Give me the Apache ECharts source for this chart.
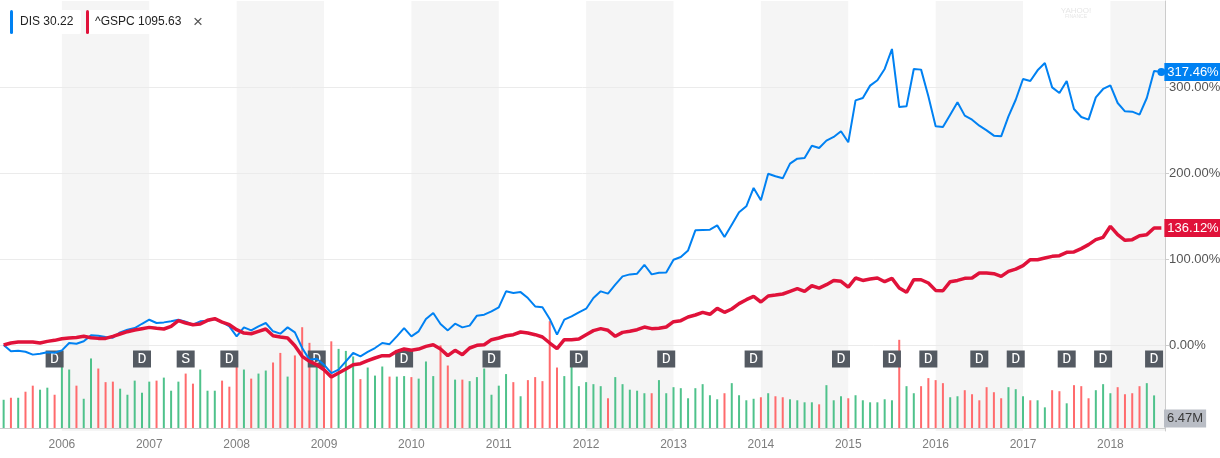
<!DOCTYPE html>
<html><head><meta charset="utf-8">
<script src="https://cdn.jsdelivr.net/npm/echarts@6/dist/echarts.min.js"></script>
<style>html,body{margin:0;padding:0;background:#fff}#c{width:1220px;height:458px}</style>
</head><body><div id="c"></div>
<script>
// ---------------- data ----------------
const tickers = ['DIS', '^GSPC'];
const legendValues = ['30.22', '1095.63'];
const startYear = 2005, startMonth = 5;   // first monthly point: May 2005

// % change since start, monthly
const dis = [0, -7.4, -6.6, -7.8, -11.2, -10.1, -8.5, -9.0, -6.2, 2.3,
 1.5, 4.3, 11.2, 10.8, 9.3, 8.5, 14.7, 17.8, 19.7, 24.7,
 29.4, 25.6, 26.3, 27.5, 29.4, 27.0, 23.6, 27.5, 28.3, 30.2,
 26.7, 21.7, 10.1, 20.5, 17.0, 21.7, 25.6, 15.9, 13.2, 20.5,
 14.7, -3.5, -17.0, -16.0, -22.9, -32.6, -28.7, -19.0, -9.3, -13.2,
 -8.1, -3.5, 2.3, 1.0, 10.1, 19.7, 10.1, 15.9, 30.2, 37.2,
 24.4, 17.0, 24.8, 20.5, 22.5, 34.1, 35.3, 39.1, 43.8, 62.4,
 60.5, 61.5, 54.6, 44.9, 43.8, 30.2, 12.0, 29.5, 33.3, 38.0,
 42.2, 54.6, 62.4, 59.7, 70.1, 79.8, 82.1, 82.9, 93.3, 82.1,
 84.0, 84.4, 99.2, 102.3, 110.0, 133.3, 133.7, 134.1, 139.1, 125.5,
 139.9, 154.3, 161.3, 182.6, 168.2, 199.2, 196.2, 193.8, 210.9, 216.7,
 217.4, 231.7, 229.0, 237.6, 241.9, 248.5, 235.7, 284.5, 287.2, 301.6,
 307.8, 321.0, 344.2, 276.7, 277.5, 321.0, 320.2, 289.2, 254.3, 253.5,
 267.8, 282.2, 266.7, 262.0, 255.0, 249.6, 243.4, 242.6, 265.8, 285.2,
 309.3, 307.0, 319.4, 327.9, 299.6, 293.0, 307.0, 274.4, 265.1, 262.0,
 288.0, 297.7, 301.9, 281.4, 271.7, 271.3, 267.8, 287.2, 318.5, 317.46];

const gspc = [0, 2.3, 3.5, 3.5, 3.5, 2.3, 4.2, 5.4, 7.3, 8.1,
 8.8, 10.1, 8.5, 7.7, 7.7, 10.1, 12.8, 15.5, 17.4, 19.0,
 20.5, 19.4, 18.6, 21.7, 28.3, 25.6, 23.6, 24.4, 28.7, 30.6,
 26.7, 23.6, 17.8, 13.9, 13.1, 15.9, 18.6, 10.8, 9.3, 8.1,
 -0.8, -13.2, -19.0, -22.9, -28.7, -37.2, -32.6, -27.9, -22.9, -21.7,
 -18.2, -15.1, -12.4, -12.4, -7.4, -4.7, -6.2, -4.7, -1.6, 0.3,
 -4.7, -12.4, -6.2, -11.2, -3.5, -0.4, 0.3, 6.2, 8.1, 10.8,
 12.0, 15.1, 13.9, 12.0, 9.3, 2.3, -4.3, 6.2, 6.2, 7.0,
 12.0, 16.7, 19.0, 17.1, 10.1, 14.7, 15.9, 17.8, 20.9, 19.0,
 19.4, 20.9, 27.1, 28.3, 32.6, 34.9, 38.0, 35.7, 42.6, 38.0,
 41.9, 48.1, 52.7, 56.6, 50.0, 57.0, 58.1, 59.3, 62.4, 65.5,
 62.3, 68.9, 66.2, 70.1, 75.1, 74.0, 67.4, 77.9, 75.1, 76.7,
 77.9, 73.6, 77.5, 66.2, 61.2, 75.9, 75.9, 72.1, 63.5, 63.1,
 73.6, 75.1, 77.5, 77.9, 83.7, 83.7, 82.9, 79.8, 85.6, 88.3,
 92.2, 99.2, 99.2, 101.2, 103.1, 103.9, 107.8, 108.2, 112.1, 116.7,
 122.5, 125.2, 138.0, 128.3, 121.7, 122.5, 127.1, 128.3, 136.0, 136.12];

// volume (millions), monthly
const volume = [5.6, 6.0, 6.0, 7.2, 8.4, 7.6, 8.0, 6.6, 12.5, 11.6,
 8.4, 5.8, 13.8, 11.8, 9.1, 9.2, 7.8, 6.6, 9.4, 7.0,
 9.2, 9.4, 10.0, 7.4, 9.2, 10.8, 8.8, 11.6, 7.4, 7.4,
 9.4, 8.2, 12.5, 11.6, 9.8, 10.8, 11.4, 13.0, 14.9, 10.2,
 14.4, 20.0, 16.9, 13.5, 13.5, 17.2, 15.7, 15.3, 14.2, 9.7,
 12.0, 10.4, 12.2, 10.2, 10.2, 10.3, 10.1, 9.8, 13.2, 10.3,
 16.4, 12.4, 9.6, 9.6, 9.3, 10.1, 11.8, 6.6, 8.4, 10.7,
 9.1, 6.3, 9.5, 10.1, 9.3, 21.2, 12.0, 10.3, 12.1, 8.3,
 9.1, 8.7, 8.3, 5.9, 10.1, 8.7, 7.6, 7.4, 6.9, 6.9,
 9.5, 6.9, 8.1, 7.9, 5.9, 7.9, 8.7, 6.5, 5.7, 6.9,
 8.9, 6.5, 5.5, 5.8, 6.1, 6.9, 6.3, 6.1, 5.7, 5.5,
 5.1, 5.1, 4.7, 8.5, 5.5, 6.3, 5.9, 6.5, 5.5, 5.1,
 5.1, 5.7, 5.5, 17.5, 8.3, 6.9, 8.3, 9.9, 9.5, 8.9,
 6.1, 6.3, 7.5, 6.7, 5.5, 8.1, 7.1, 5.9, 8.1, 7.7,
 6.3, 5.5, 5.5, 4.1, 7.5, 7.3, 4.9, 8.5, 8.3, 5.9,
 7.5, 8.7, 6.9, 8.1, 6.7, 6.9, 8.3, 8.9, 6.47, null];

// G = up month, R = down month (volume bar colour)
const volumeDir = ('GRGRRGGRGG' + 'RGGRRRGGGG' + 'GRGGGRRGGG' + 'RRRGRGGRRG' +
 'RRRGRRGGGR' + 'GGGRGGRGGG' + 'RRGRGGGGGG' + 'RGRRRRRGGG' +
 'GGGRGGGGGR' + 'GGGGGGGGGR' + 'GGGGRGRRGG' + 'GGRGGGRGGG' +
 'GGGRGGRRRR' + 'GGRRRRRRGG' + 'GRGGRRGRRR' + 'GGGRRRRGG').split('');

// dividend / split events
const eventMonths = ['2005-12', '2006-12', '2007-06', '2007-12', '2008-12', '2009-12',
 '2010-12', '2011-12', '2012-12', '2013-12', '2014-12', '2015-07', '2015-12',
 '2016-07', '2016-12', '2017-07', '2017-12', '2018-07'];
const eventKinds = ['D', 'D', 'S', 'D', 'D', 'D', 'D', 'D', 'D', 'D', 'D', 'D', 'D',
 'D', 'D', 'D', 'D', 'D'];

// ---------------- derived ----------------
const categories = dis.map((_, k) => {
  const m = startMonth - 1 + k;
  return (startYear + Math.floor(m / 12)) + '-' + String(m % 12 + 1).padStart(2, '0');
});
const isJan = (i, v) => String(v).endsWith('-01');
const Y_MIN = -100, Y_MAX = 400, Y_STEP = 100, VOL_MAX = 25.4;
const BLUE = '#0081f2', RED = '#e0123a', UP = '#4fc28b', DOWN = '#ff6b6d';
const FONT = '"Liberation Sans", Arial, sans-serif';
const fmtPct = v => v.toFixed(2) + '%';

const bands = [];
categories.forEach((c, i) => {
  if (c.endsWith('-01') && (+c.slice(0, 4)) % 2 === 0) {
    const end = categories[i + 12];
    bands.push([{ xAxis: c, yAxis: Y_MIN }, end ? { xAxis: end, yAxis: Y_MAX } : { yAxis: Y_MAX }]);
  }
});
const lastVol = volume.filter(v => v != null).slice(-1)[0];

const chart = echarts.init(document.getElementById('c'), null, { renderer: 'canvas' });
chart.setOption({
  animation: false,
  textStyle: { fontFamily: FONT },
  grid: [
    { left: 0, top: 1, width: 1165, height: 430, outerBoundsMode: 'none', containLabel: false },
    { left: 0, top: 300, width: 1165, height: 128, outerBoundsMode: 'none', containLabel: false }
  ],
  xAxis: [
    { type: 'category', gridIndex: 0, data: categories, boundaryGap: true, show: false },
    { type: 'category', gridIndex: 1, data: categories, boundaryGap: true,
      axisLine: { lineStyle: { color: '#cccccc' } },
      axisTick: { alignWithLabel: true, interval: isJan, length: 4, lineStyle: { color: '#cccccc' } },
      axisLabel: { interval: isJan, formatter: v => v.slice(0, 4), color: '#7d7d7d', fontSize: 12, margin: 11, fontFamily: FONT },
      splitLine: { show: false } }
  ],
  yAxis: [
    { type: 'value', gridIndex: 0, position: 'right', min: Y_MIN, max: Y_MAX, interval: Y_STEP,
      axisLine: { show: true, lineStyle: { color: '#cccccc' } },
      axisTick: { show: true, length: 4, lineStyle: { color: '#cccccc' } },
      axisLabel: { showMinLabel: false, showMaxLabel: false, color: '#555', fontSize: 13, margin: 4,
        fontFamily: FONT, formatter: v => (v <= Y_MIN || v >= Y_MAX) ? '' : fmtPct(v) },
      splitLine: { show: true, showMinLine: false, showMaxLine: false, lineStyle: { color: '#ebebeb' } } },
    { type: 'value', gridIndex: 1, min: 0, max: VOL_MAX, show: false, splitLine: { show: false } }
  ],
  series: [
    { name: 'bands', type: 'line', xAxisIndex: 0, yAxisIndex: 0, data: [], z: -1, silent: true,
      markArea: { silent: true, z: -1, itemStyle: { color: '#f5f5f5' }, label: { show: false }, data: bands } },
    { name: 'Volume', type: 'bar', xAxisIndex: 1, yAxisIndex: 1, barWidth: 2, z: 2, silent: true,
      data: volume.map((v, i) => ({ value: v, itemStyle: { color: volumeDir[i] === 'G' ? UP : DOWN } })) },
    { name: 'Events', type: 'scatter', xAxisIndex: 0, yAxisIndex: 0, z: 3, silent: true,
      symbol: 'rect', symbolSize: [18, 17], symbolOffset: [0, 14],
      itemStyle: { color: '#545a62', opacity: 1 },
      label: { show: true, position: 'inside', color: '#fff', fontSize: 15,
        fontFamily: '"Liberation Mono", "Courier New", monospace', formatter: p => eventKinds[p.dataIndex] },
      data: eventMonths.map(m => [m, 0]) },
    { name: tickers[0], type: 'line', xAxisIndex: 0, yAxisIndex: 0, z: 4, silent: true,
      data: dis, showSymbol: true, showAllSymbol: true, symbol: 'circle',
      symbolSize: (v, p) => p.dataIndex === dis.length - 1 ? 8 : 0,
      itemStyle: { color: BLUE }, lineStyle: { color: BLUE, width: 2 },
      endLabel: { show: true, formatter: p => fmtPct(p.value), color: '#fff', backgroundColor: BLUE,
        padding: [2, 3, 2, 3], fontSize: 13, lineHeight: 14, distance: 3, fontFamily: FONT } },
    { name: tickers[1], type: 'line', xAxisIndex: 0, yAxisIndex: 0, z: 5, silent: true,
      data: gspc, showSymbol: false, symbol: 'none',
      itemStyle: { color: RED }, lineStyle: { color: RED, width: 3.5 },
      endLabel: { show: true, formatter: p => fmtPct(p.value), color: '#fff', backgroundColor: RED,
        padding: [2, 3, 2, 3], fontSize: 13, lineHeight: 14, distance: 3, fontFamily: FONT } }
  ],
  graphic: [
    { type: 'rect', shape: { x: 10, y: 10, width: 71, height: 24, r: 2 }, style: { fill: '#fff' }, z: 10 },
    { type: 'rect', shape: { x: 10, y: 10, width: 3, height: 24, r: 1.5 }, style: { fill: BLUE }, z: 11 },
    { type: 'text', x: 20, y: 22, z: 11, style: { text: tickers[0] + ' ' + legendValues[0], fill: '#222',
      fontSize: 12, fontFamily: FONT, verticalAlign: 'middle' } },
    { type: 'rect', shape: { x: 86, y: 10, width: 99, height: 24, r: 2 }, style: { fill: '#fff' }, z: 10 },
    { type: 'rect', shape: { x: 86, y: 10, width: 3, height: 24, r: 1.5 }, style: { fill: RED }, z: 11 },
    { type: 'text', x: 95, y: 22, z: 11, style: { text: tickers[1] + ' ' + legendValues[1], fill: '#222',
      fontSize: 12, fontFamily: FONT, verticalAlign: 'middle' } },
    { type: 'text', x: 198, y: 22, z: 11, style: { text: '\u00d7', fill: '#555', fontSize: 17,
      fontFamily: FONT, align: 'center', verticalAlign: 'middle' } },
    { type: 'text', x: 1076, y: 11, z: 1, style: { text: 'YAHOO!', fill: '#e6e6e6', fontSize: 8,
      fontFamily: FONT, align: 'center', verticalAlign: 'middle' } },
    { type: 'text', x: 1076, y: 17, z: 1, style: { text: 'FINANCE', fill: '#e6e6e6', fontSize: 5,
      fontFamily: FONT, align: 'center', verticalAlign: 'middle' } },
    { type: 'text', x: 1164, y: 418.5, z: 11, style: { text: lastVol.toFixed(2) + 'M', fill: '#3a3a3a',
      fontSize: 13, fontFamily: FONT, verticalAlign: 'middle', backgroundColor: '#b9bdc5', padding: [3, 3, 2, 3] } }
  ]
});
</script>
</body></html>
